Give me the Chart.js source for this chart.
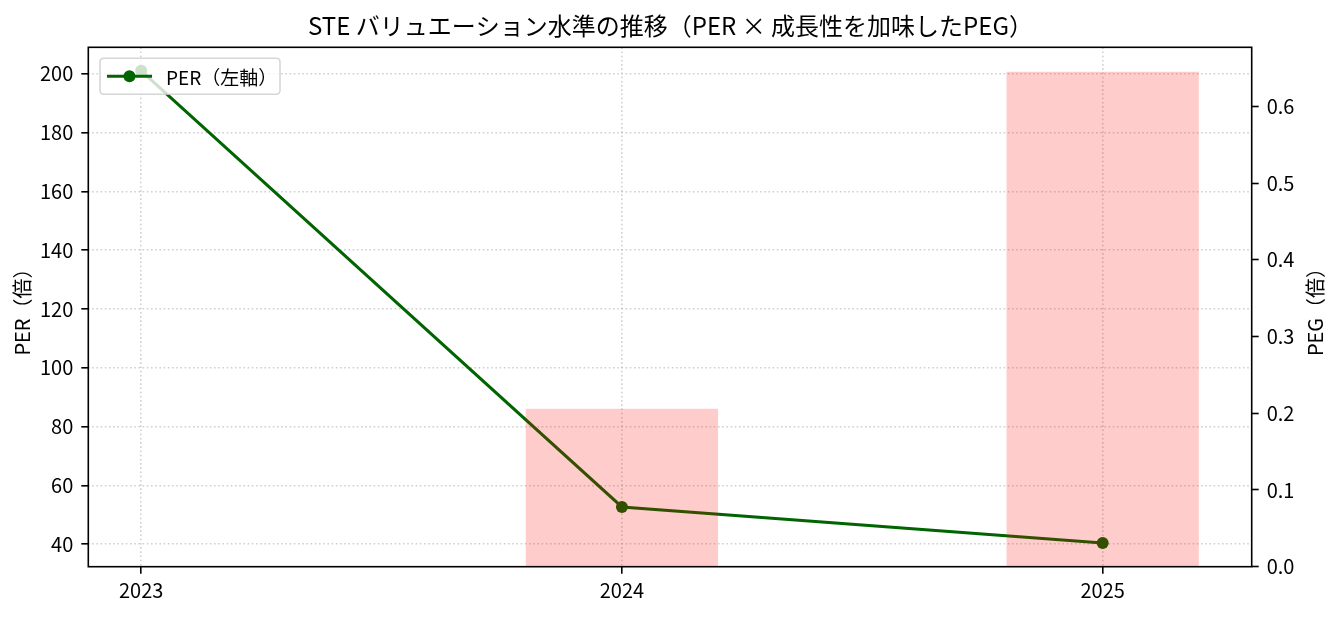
<!DOCTYPE html>
<html><head><meta charset="utf-8">
<style>
html,body{margin:0;padding:0;background:#fff;}
#wrap{width:1341px;height:617px;}
</style>
<script src="https://cdn.jsdelivr.net/npm/chart.js@4/dist/chart.umd.min.js"></script>
</head><body><div id="wrap"><canvas id="c" width="1341" height="617"></canvas></div>
<script>
const categories = ['2023', '2024', '2025'];
const perValues = [201.0, 52.7, 40.4];
const pegValues = [null, 0.206, 0.645];
const perTicks = [40, 60, 80, 100, 120, 140, 160, 180, 200];
const pegTicks = [0, 0.1, 0.2, 0.3, 0.4, 0.5, 0.6];
const titleText = 'STE バリュエーション水準の推移（PER × 成長性を加味したPEG）';
const leftTitle = 'PER（倍）';
const rightTitle = 'PEG（倍）';
const legendLabel = 'PER（左軸）';

const FONT = '"Noto Sans CJK JP", "Noto Sans", sans-serif';
const GREEN = '#006400';

function draw() {
  const frameAndLegend = {
    id: 'frameAndLegend',
    afterDraw(chart) {
      const ctx = chart.ctx;
      const a = chart.chartArea;
      ctx.save();
      // frame
      ctx.strokeStyle = '#000';
      ctx.lineWidth = 1.6;
      ctx.setLineDash([]);
      ctx.strokeRect(a.left, a.top, a.right - a.left, a.bottom - a.top);
      // axis titles
      ctx.fillStyle = '#000';
      ctx.font = '20px ' + FONT;
      ctx.textAlign = 'center';
      ctx.textBaseline = 'middle';
      const cy = (a.top + a.bottom) / 2;
      ctx.save(); ctx.translate(22, cy); ctx.rotate(-Math.PI / 2); ctx.fillText(leftTitle, 0, 0); ctx.restore();
      ctx.save(); ctx.translate(1315, cy); ctx.rotate(-Math.PI / 2); ctx.fillText(rightTitle, 0, 0); ctx.restore();
      // legend
      const bx = a.left + 11.7, by = a.top + 11, bw = 180, bh = 36, r = 4;
      ctx.beginPath();
      ctx.moveTo(bx + r, by);
      ctx.lineTo(bx + bw - r, by); ctx.quadraticCurveTo(bx + bw, by, bx + bw, by + r);
      ctx.lineTo(bx + bw, by + bh - r); ctx.quadraticCurveTo(bx + bw, by + bh, bx + bw - r, by + bh);
      ctx.lineTo(bx + r, by + bh); ctx.quadraticCurveTo(bx, by + bh, bx, by + bh - r);
      ctx.lineTo(bx, by + r); ctx.quadraticCurveTo(bx, by, bx + r, by);
      ctx.closePath();
      ctx.fillStyle = 'rgba(255,255,255,0.8)';
      ctx.fill();
      ctx.strokeStyle = 'rgba(204,204,204,0.8)';
      ctx.lineWidth = 1.6;
      ctx.stroke();
      const ly = by + bh / 2;
      ctx.strokeStyle = GREEN; ctx.lineWidth = 3;
      ctx.beginPath(); ctx.moveTo(bx + 7, ly); ctx.lineTo(bx + 52, ly); ctx.stroke();
      ctx.fillStyle = GREEN;
      ctx.beginPath(); ctx.arc(bx + 29.5, ly, 6, 0, Math.PI * 2); ctx.fill();
      ctx.fillStyle = '#000';
      ctx.font = '19px ' + FONT;
      ctx.textAlign = 'left';
      ctx.fillText(legendLabel, bx + 66, ly + 1);
      ctx.restore();
    }
  };

  new Chart(document.getElementById('c'), {
    type: 'line',
    data: {
      datasets: [
        {
          type: 'bar',
          label: 'PEG（右軸）',
          data: pegValues.map((v, i) => ({ x: i, y: v })),
          xAxisID: 'x',
          yAxisID: 'y1',
          backgroundColor: 'rgba(255,0,0,0.2)',
          borderWidth: 0,
          barPercentage: 0.4,
          categoryPercentage: 1.0,
          order: 0
        },
        {
          type: 'line',
          label: legendLabel,
          data: perValues.map((v, i) => ({ x: i, y: v })),
          xAxisID: 'x',
          yAxisID: 'y',
          borderColor: GREEN,
          backgroundColor: GREEN,
          borderWidth: 3,
          pointRadius: 6,
          pointBackgroundColor: GREEN,
          pointBorderColor: GREEN,
          pointBorderWidth: 0,
          tension: 0,
          fill: false,
          clip: false,
          order: 1
        }
      ]
    },
    options: {
      responsive: false,
      animation: false,
      devicePixelRatio: 1,
      layout: { padding: 0 },
      plugins: {
        legend: { display: false },
        tooltip: { enabled: false },
        title: {
          display: true,
          text: titleText,
          color: '#000',
          font: { family: FONT, size: 24, weight: 'normal', lineHeight: 1.2 },
          padding: { top: 11, bottom: 7.5 }
        }
      },
      scales: {
        x: {
          type: 'linear',
          position: 'bottom',
          min: -0.11,
          max: 2.31,
          offset: false,
          afterBuildTicks: s => { s.ticks = categories.map((c, i) => ({ value: i })); },
          afterFit: s => { s.height = 50.3; },
          ticks: {
            callback: v => categories[v],
            color: '#000',
            font: { family: FONT, size: 20 },
            padding: 5,
            maxRotation: 0,
            autoSkip: false
          },
          grid: {
            display: true,
            offset: false,
            color: 'rgba(176,176,176,0.6)',
            lineWidth: 1.6,
            drawTicks: true,
            tickLength: 7,
            tickColor: '#000',
            tickWidth: 1.6,
            tickBorderDash: []
          },
          border: { display: false, dash: [1.6, 2.6] }
        },
        y: {
          type: 'linear',
          position: 'left',
          min: 32.38,
          max: 208.98,
          afterBuildTicks: s => { s.ticks = perTicks.map(v => ({ value: v })); },
          afterFit: s => { s.width = 88.3; },
          ticks: {
            color: '#000',
            font: { family: FONT, size: 20 },
            padding: 8
          },
          grid: {
            color: 'rgba(176,176,176,0.6)',
            lineWidth: 1.6,
            drawTicks: true,
            tickLength: 7,
            tickColor: '#000',
            tickWidth: 1.6,
            tickBorderDash: []
          },
          border: { display: false, dash: [1.6, 2.6] }
        },
        y1: {
          type: 'linear',
          position: 'right',
          min: 0,
          max: 0.677,
          afterBuildTicks: s => { s.ticks = pegTicks.map(v => ({ value: v })); },
          afterFit: s => { s.width = 1341 - 1251.7; },
          ticks: {
            callback: v => v.toFixed(1),
            color: '#000',
            font: { family: FONT, size: 20 },
            padding: 8
          },
          grid: {
            drawOnChartArea: false,
            drawTicks: true,
            tickLength: 7,
            tickColor: '#000',
            tickWidth: 1.6,
            tickBorderDash: []
          },
          border: { display: false }
        }
      }
    },
    plugins: [frameAndLegend]
  });
}

if (document.fonts && document.fonts.load) {
  document.fonts.load('20px "Noto Sans CJK JP"', 'バ倍0').catch(() => {}).then(draw);
} else {
  draw();
}
</script>
</body></html>
